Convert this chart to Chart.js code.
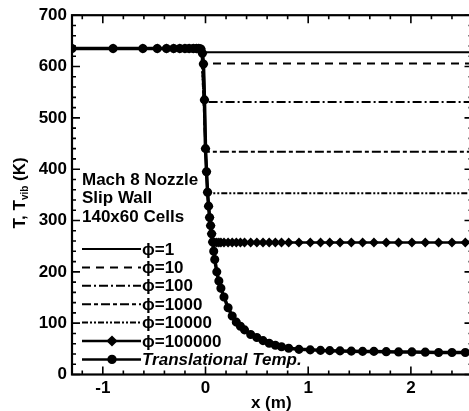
<!DOCTYPE html>
<html lang="en">
<head>
<meta charset="UTF-8" />
<title>Mach 8 Nozzle - T, Tvib</title>
<script src="https://cdn.jsdelivr.net/npm/chart.js"></script>
<style>
  html, body { margin: 0; padding: 0; background: #fff; overflow: hidden; }
  #wrap { width: 480px; height: 411px; }
</style>
</head>
<body>
<div id="wrap"><canvas id="tempChart" width="480" height="411"></canvas></div>
<script>
  // grid points along the nozzle (m)
  const xGrid = [-1.3, -0.9, -0.61, -0.47, -0.38, -0.31, -0.25, -0.2, -0.16, -0.12, -0.09, -0.065, -0.045,
    -0.03, -0.02, -0.01, 0.0, 0.01, 0.02, 0.03, 0.04, 0.05, 0.06, 0.07, 0.08, 0.09, 0.11, 0.13, 0.15,
    0.18, 0.22, 0.26, 0.30, 0.34, 0.38, 0.44, 0.50, 0.56, 0.62, 0.68, 0.74, 0.81, 0.91, 1.02, 1.12,
    1.21, 1.31, 1.42, 1.53, 1.64, 1.76, 1.88, 2.01, 2.14, 2.27, 2.40, 2.53, 2.6];
  // translational temperature (K)
  const tTrans = [635, 635, 635, 635, 635, 635, 635, 635, 635, 635, 635, 635, 634,
    626, 605, 535, 440, 395, 355, 328, 306, 290, 274, 258, 240, 224, 200, 182, 168,
    151, 130, 114, 102, 94, 87, 78, 72, 66, 61, 57, 54, 51, 49, 48, 47,
    46.5, 46, 45.5, 45, 45, 44.5, 44, 44, 43.5, 43, 43, 43, 43];
  // vibrational temperature, phi = 100000
  const tPhi100000 = [635, 635, 635, 635, 635, 635, 635, 635, 635, 635, 635, 635, 634,
    626, 605, 535, 440, 395, 355, 328, 306, 290, 274, 258, 257, 257, 257, 257, 257,
    257, 257, 257, 257, 257, 257, 257, 257, 257, 257, 257, 257, 257, 257, 257, 257,
    257, 257, 257, 257, 257, 257, 257, 257, 257, 257, 257, 257, 257];

  // frozen vibrational temperatures for the other phi values
  const phiNames = ['ϕ=1', 'ϕ=10', 'ϕ=100', 'ϕ=1000', 'ϕ=10000'];
  const tInlet = 635;
  const xUpstream = [-1.3, -0.04];
  const xFreeze = [-0.03, -0.02, -0.01, 0.0, 0.02];
  const tFreeze = [628, 606, 531, 434, 353];
  const xExit = 2.6;

  const xTicks = [-1, 0, 1, 2];
  const yTicks = [0, 100, 200, 300, 400, 500, 600, 700];
  const xMinorStep = 0.2, yMinorStep = 20;

  const FONT = "'Liberation Sans', Arial, Helvetica, sans-serif";
  const phiDash = [[], [8, 6], [9, 3, 2, 3], [9, 3, 4, 3], [6, 2, 2, 2, 2, 2]];

  const datasets = phiNames.map((name, i) => ({
    label: name,
    data: [
      { x: xUpstream[0], y: tInlet }, { x: xUpstream[1], y: tInlet },
      { x: xFreeze[i], y: tFreeze[i] }, { x: xExit, y: tFreeze[i] }
    ],
    borderColor: '#000',
    borderWidth: 2,
    borderDash: phiDash[i],
    pointRadius: 0,
    showLine: true
  }));
  datasets.push({
    label: 'ϕ=100000',
    data: xGrid.map((x, i) => ({ x, y: tPhi100000[i] })),
    borderColor: '#000', backgroundColor: '#000',
    borderWidth: 2.5,
    pointStyle: 'rectRot', pointRadius: 3.2,
    showLine: true
  });
  datasets.push({
    label: 'Translational Temp.',
    data: xGrid.map((x, i) => ({ x, y: tTrans[i] })),
    borderColor: '#000', backgroundColor: '#000',
    borderWidth: 3.5,
    pointStyle: 'circle', pointRadius: 2.8,
    showLine: true,
    italic: true
  });

  // inward ticks on all four sides and the frame
  const axisFrame = {
    id: 'axisFrame',
    afterDraw(chart) {
      const { ctx, chartArea: a } = chart;
      const x = chart.scales.x, y = chart.scales.y;
      ctx.save();
      ctx.setLineDash([]);
      ctx.strokeStyle = '#000';
      ctx.lineWidth = 1.6;
      ctx.beginPath();
      for (let i = Math.ceil(x.min / xMinorStep - 1e-6); i <= Math.floor(x.max / xMinorStep + 1e-6); i++) {
        const v = i * xMinorStep;
        const len = Math.abs(v - Math.round(v)) < 1e-6 ? 8 : 4;
        const px = x.getPixelForValue(v);
        ctx.moveTo(px, a.bottom); ctx.lineTo(px, a.bottom - len);
        ctx.moveTo(px, a.top); ctx.lineTo(px, a.top + len);
      }
      for (let i = Math.ceil(y.min / yMinorStep); i <= Math.floor(y.max / yMinorStep); i++) {
        const len = i % 5 === 0 ? 8 : 4;
        const py = y.getPixelForValue(i * yMinorStep);
        ctx.moveTo(a.left, py); ctx.lineTo(a.left + len, py);
        ctx.moveTo(a.right, py); ctx.lineTo(a.right - len, py);
      }
      ctx.stroke();
      ctx.lineWidth = 2.2;
      ctx.strokeRect(a.left, a.top, a.right - a.left, a.bottom - a.top);

      // axis titles
      ctx.fillStyle = '#000';
      ctx.textBaseline = 'middle';
      ctx.textAlign = 'center';
      ctx.font = 'bold 17px ' + FONT;
      ctx.fillText('x (m)', (a.left + a.right) / 2 - 1, 403);

      ctx.translate(20, (a.top + a.bottom) / 2 - 2);
      ctx.rotate(-Math.PI / 2);
      ctx.textAlign = 'left';
      const big = 'bold 17px ' + FONT, small = 'bold 10px ' + FONT;
      ctx.font = big; const w1 = ctx.measureText('T, T').width, w3 = ctx.measureText(' (K)').width;
      ctx.font = small; const w2 = ctx.measureText('vib').width;
      let cx = -(w1 + w2 + w3) / 2;
      ctx.font = big; ctx.fillText('T, T', cx, 0); cx += w1;
      ctx.font = small; ctx.fillText('vib', cx, 5); cx += w2;
      ctx.font = big; ctx.fillText(' (K)', cx, 0);
      ctx.restore();
    }
  };

  // legend block inside the plot
  const legendBlock = {
    id: 'legendBlock',
    afterDatasetsDraw(chart) {
      const { ctx } = chart;
      const left = 82, lineEnd = 141, firstY = 249, rowH = 18.4;
      ctx.save();
      ctx.fillStyle = '#000';
      ctx.strokeStyle = '#000';
      ctx.textBaseline = 'middle';
      ctx.font = 'bold 17px ' + FONT;
      ['Mach 8 Nozzle', 'Slip Wall', '140x60 Cells'].forEach((t, i) => ctx.fillText(t, left, 180 + i * 18.6));
      chart.data.datasets.forEach((ds, i) => {
        const yy = firstY + i * rowH;
        ctx.lineWidth = Math.min(ds.borderWidth, 2.5);
        ctx.setLineDash(ds.borderDash || []);
        ctx.beginPath(); ctx.moveTo(left, yy); ctx.lineTo(lineEnd, yy); ctx.stroke();
        ctx.setLineDash([]);
        if (ds.pointRadius > 0) {
          Chart.helpers.drawPoint(ctx, { pointStyle: ds.pointStyle, radius: ds.pointRadius + 0.6, borderWidth: 1 }, 112, yy);
          ctx.fill();
        }
        ctx.font = (ds.italic ? 'italic ' : '') + 'bold 17px ' + FONT;
        ctx.fillText(ds.label, lineEnd + 1, yy + 1);
      });
      ctx.restore();
    }
  };

  new Chart(document.getElementById('tempChart'), {
    type: 'scatter',
    data: { datasets },
    options: {
      responsive: false,
      animation: false,
      layout: { padding: { top: 15, right: 6, left: 0, bottom: 0 } },
      plugins: { legend: { display: false }, tooltip: { enabled: false } },
      scales: {
        x: {
          type: 'linear', min: -1.3, max: xExit,
          afterFit: s => { s.height = 36.5; },
          afterBuildTicks: s => { s.ticks = xTicks.map(v => ({ value: v })); },
          ticks: { padding: 4, color: '#000', font: { family: FONT, size: 17, weight: 'bold' } },
          grid: { display: false, drawTicks: false },
          border: { display: false }
        },
        y: {
          min: 0, max: 700,
          afterFit: s => { s.width = 72; },
          afterBuildTicks: s => { s.ticks = yTicks.map(v => ({ value: v })); },
          ticks: { padding: 5, color: '#000', font: { family: FONT, size: 17, weight: 'bold' } },
          grid: { display: false, drawTicks: false },
          border: { display: false }
        }
      }
    },
    plugins: [axisFrame, legendBlock]
  });
</script>
</body>
</html>
